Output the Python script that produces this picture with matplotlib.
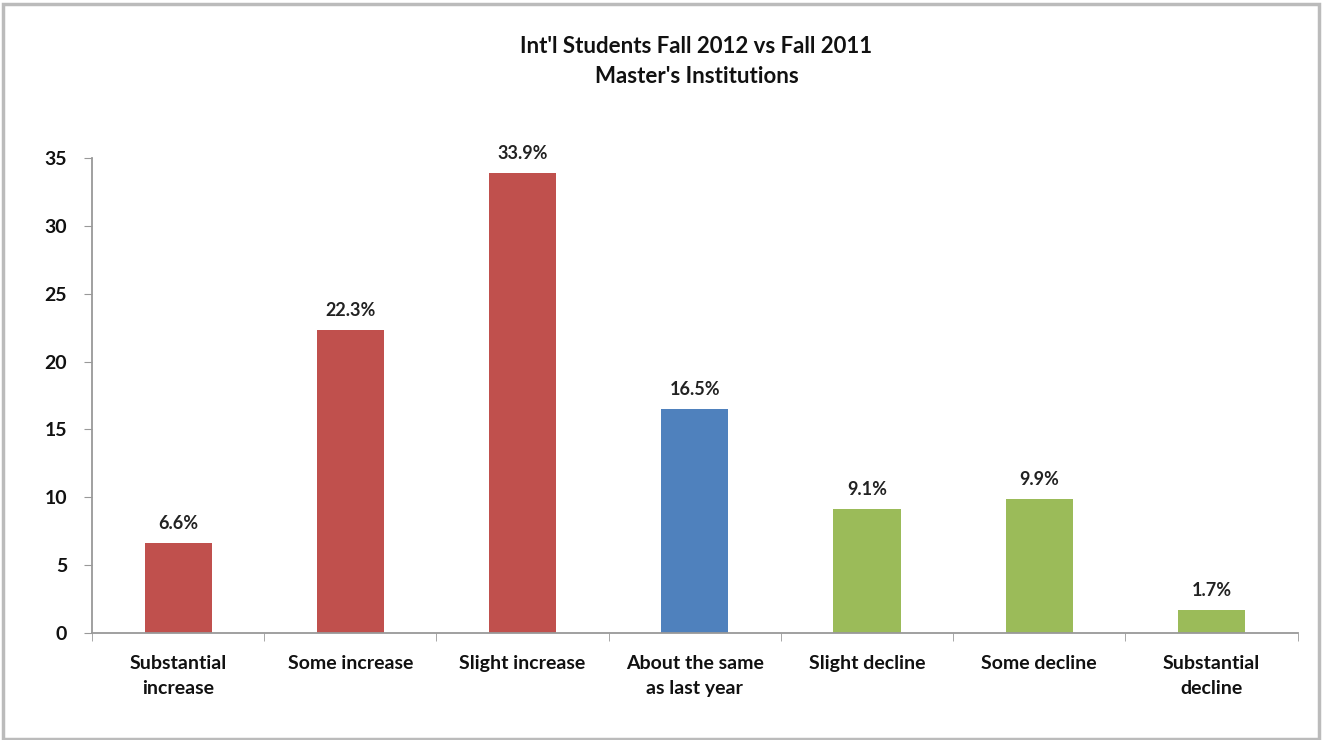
import matplotlib
matplotlib.use("Agg")
import matplotlib.pyplot as plt
from matplotlib.patches import Rectangle
import numpy as np

categories = ["Substantial\nincrease", "Some increase", "Slight increase",
              "About the same\nas last year", "Slight decline", "Some decline",
              "Substantial\ndecline"]
values = [6.6, 22.3, 33.9, 16.5, 9.1, 9.9, 1.7]
labels = ["6.6%", "22.3%", "33.9%", "16.5%", "9.1%", "9.9%", "1.7%"]
colors = ["#C0504D", "#C0504D", "#C0504D", "#4F81BD", "#9BBB59", "#9BBB59", "#9BBB59"]

plt.rcParams['font.family'] = ['Lato', 'DejaVu Sans']

fig = plt.figure(figsize=(13.24, 7.4), dpi=100)
ax = fig.add_axes([0.0695, 0.1446, 0.9105, 0.6419])

x = np.arange(len(categories))
bars = ax.bar(x, values, width=0.39, color=colors)

for b, lab in zip(bars, labels):
    ax.annotate(lab, (b.get_x() + b.get_width() / 2, b.get_height()),
                xytext=(0, 8), textcoords="offset points",
                ha="center", va="bottom", fontsize=13, fontweight="bold", color="#222222")

ax.set_xlim(-0.5, len(categories) - 0.5)
ax.set_ylim(0, 35)
ax.set_yticks(range(0, 36, 5))
ax.set_xticks(x)
ax.set_xticklabels(categories, fontsize=14, fontweight="bold", color="#111111",
                   linespacing=1.55)
ax.set_xticks(np.arange(-0.5, len(categories), 1), minor=True)
ax.tick_params(axis="x", which="major", length=0, pad=16)
ax.tick_params(axis="x", which="minor", length=6, color="#999999", direction="out")
ax.tick_params(axis="y", length=6, color="#999999", labelsize=14, pad=12)
for t in ax.get_yticklabels():
    t.set_fontweight("bold")
    t.set_color("#111111")

for s in ["top", "right"]:
    ax.spines[s].set_visible(False)
for s in ["left", "bottom"]:
    ax.spines[s].set_color("#999999")
    ax.spines[s].set_linewidth(1.3)

fig.text(0.526, 0.917, "Int'l Students Fall 2012 vs Fall 2011\nMaster's Institutions",
         ha="center", va="center", fontsize=16, fontweight="bold",
         linespacing=1.55, color="#111111")

fig.patches.append(Rectangle((0.002, 0.002), 0.994, 0.993, transform=fig.transFigure,
                             fill=False, edgecolor="#BBBBBB", linewidth=2.5))

fig.savefig("out.png", dpi=100)
